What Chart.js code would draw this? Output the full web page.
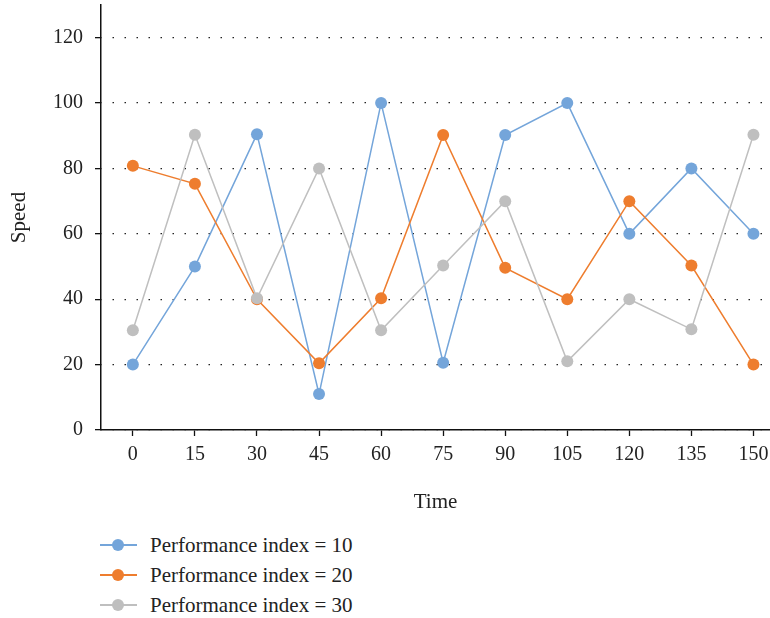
<!DOCTYPE html>
<html>
<head>
<meta charset="utf-8">
<script src="https://cdn.jsdelivr.net/npm/chart.js@4/dist/chart.umd.min.js"></script>
<style>
  body { margin: 0; background: #fff; overflow: hidden; }
  #wrap { position: relative; width: 770px; height: 525px; }
  #legend { position: absolute; left: 100px; top: 530px; font-family: "Liberation Serif", serif; font-size: 21px; color: #222; }
  .row { height: 30px; display: flex; align-items: center; }
  .mark { position: relative; width: 37px; height: 12px; margin-right: 13px; }
  .mark .ln { position: absolute; left: 0; right: 0; top: 5px; height: 1.5px; }
  .mark .dot { position: absolute; left: 12px; top: 0; width: 12px; height: 12px; border-radius: 50%; }
</style>
</head>
<body>
<div id="wrap"><canvas id="chart"></canvas></div>
<div id="legend"></div>
<script>
const times = [0, 15, 30, 45, 60, 75, 90, 105, 120, 135, 150];
const yTicks = [0, 20, 40, 60, 80, 100, 120];

const labels = ['Performance index = 10', 'Performance index = 20', 'Performance index = 30'];
const pi10 = [20, 50, 90.5, 11, 100, 20.6, 90.2, 100, 60, 80, 60];
const pi20 = [80.8, 75.3, 40, 20.4, 40.3, 90.2, 49.6, 40, 70, 50.3, 20];
const pi30 = [30.5, 90.3, 40.3, 80, 30.5, 50.3, 70, 21, 40, 30.8, 90.3];
const colors = ['#74a5da', '#ee7d2e', '#bfbfbf'];

const serif = '"Liberation Serif", "Times New Roman", serif';

function toPoints(values) {
  return values.map(function (v, i) { return { x: times[i], y: v }; });
}

const series = [pi10, pi20, pi30];
const datasets = series.map(function (vals, i) {
  return {
    label: labels[i],
    data: toPoints(vals),
    borderColor: colors[i],
    backgroundColor: colors[i],
    borderWidth: 1.5,
    pointRadius: 6,
    pointBorderWidth: 0,
    pointHoverRadius: 6,
    tension: 0,
    order: 2 - i,
  };
});

new Chart(document.getElementById('chart'), {
  type: 'line',
  data: { datasets: datasets },
  options: {
    responsive: true,
    maintainAspectRatio: false,
    animation: false,
    layout: { autoPadding: false, padding: { top: 5, right: 0, left: 0, bottom: 0 } },
    plugins: { legend: { display: false }, tooltip: { enabled: false } },
    scales: {
      x: {
        type: 'linear',
        min: -7.7,
        max: 154,
        afterBuildTicks: function (s) { s.ticks = times.map(function (v) { return { value: v }; }); },
        afterFit: function (s) { s.height = 95; s.paddingLeft = 0; s.paddingRight = 0; },
        ticks: { color: '#222', font: { family: serif, size: 20 }, padding: 7, maxRotation: 0 },
        grid: { drawOnChartArea: false, drawTicks: true, tickLength: 6, color: '#111', tickWidth: 1.3 },
        border: { color: '#111', width: 1.5 },
        title: { display: true, text: 'Time', color: '#222', font: { family: serif, size: 21 }, padding: { top: 4, bottom: 10 } },
      },
      y: {
        min: 0,
        max: 130,
        afterBuildTicks: function (s) { s.ticks = yTicks.map(function (v) { return { value: v }; }); },
        afterFit: function (s) { s.width = 101; s.paddingTop = 0; s.paddingBottom = 0; },
        ticks: { color: '#222', font: { family: serif, size: 20 }, padding: 12 },
        grid: {
          drawOnChartArea: true,
          color: '#222',
          lineWidth: 1.3,
          tickLength: 6,
          tickColor: '#111',
          tickWidth: 1.3,
          tickBorderDash: [],
        },
        border: { color: '#111', width: 1.5, dash: [1.5, 10.5], dashOffset: -11 },
        title: { display: true, text: 'Speed', color: '#222', font: { family: serif, size: 21 }, padding: { top: 7, bottom: 0 } },
      },
    },
  },
});

const legend = document.getElementById('legend');
labels.forEach(function (text, i) {
  const row = document.createElement('div');
  row.className = 'row';
  row.innerHTML = '<div class="mark"><div class="ln" style="background:' + colors[i] + '"></div>' +
    '<div class="dot" style="background:' + colors[i] + '"></div></div><span>' + text + '</span>';
  legend.appendChild(row);
});
</script>
</body>
</html>
